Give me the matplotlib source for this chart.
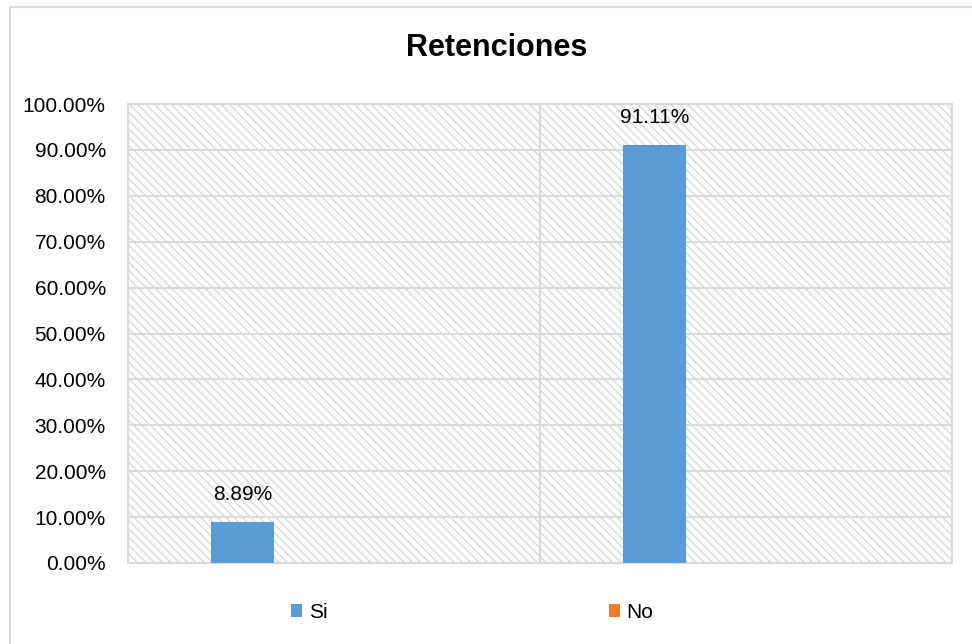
import matplotlib
matplotlib.use("Agg")
import matplotlib.pyplot as plt
from matplotlib.patches import Rectangle, Patch
from matplotlib.ticker import FuncFormatter

# Data
categories = ["1", "2"]
series_names = ["Si", "No"]
si_values = [8.89, 91.11]
no_values = [0.0, 0.0]
y_ticks = [0, 10, 20, 30, 40, 50, 60, 70, 80, 90, 100]

plt.rcParams["font.family"] = ["Liberation Sans", "DejaVu Sans"]
grey = "#d9d9d9"
blue = "#5b9bd5"
orange = "#ed7d31"
plt.rcParams["hatch.color"] = grey
plt.rcParams["hatch.linewidth"] = 1.0

fig = plt.figure(figsize=(9.72, 6.44), dpi=100)
ax = fig.add_axes([128 / 972, 1 - 563 / 644, (952 - 128) / 972, (563 - 104) / 644])

# Outer chart frame (top and left edges visible)
fig.patches.append(Rectangle((10 / 972, -0.05), 1.2, 1 - 7 / 644 + 0.05,
                             transform=fig.transFigure, fill=False,
                             edgecolor=grey, linewidth=1.5, zorder=0))

# Hatched plot area
ax.set_facecolor("white")
ax.add_patch(Rectangle((0, 0), 1, 1, transform=ax.transAxes, facecolor="white",
                       edgecolor=grey, hatch="\\\\\\\\", linewidth=0, zorder=0))

x = list(range(len(categories)))
bar_w = 0.153
offset = 0.221
ax.bar([i - offset for i in x], si_values, width=bar_w, color=blue, zorder=3)
ax.bar([i + offset for i in x], no_values, width=bar_w, color=orange, zorder=3, linewidth=0)

for i, v in zip(x, si_values):
    ax.annotate(f"{v:.2f}%", (i - offset, v), xytext=(0, 13), textcoords="offset points",
                ha="center", va="bottom", fontsize=15, color="#000000")

ax.set_xlim(-0.5, len(categories) - 0.5)
ax.set_ylim(0, 100)
ax.set_yticks(y_ticks)
ax.yaxis.set_major_formatter(FuncFormatter(lambda v, p: f"{v:.2f}%"))
ax.set_xticks([])
ax.set_xticks([0.5], minor=True)
ax.tick_params(axis="y", length=0, pad=16, labelsize=15, colors="#000000")
ax.tick_params(axis="x", which="both", length=0)
ax.grid(axis="y", color=grey, linewidth=1.5, zorder=1)
ax.grid(axis="x", which="minor", color=grey, linewidth=1.5, zorder=1)
ax.set_axisbelow(True)
for s in ax.spines.values():
    s.set_color(grey)
    s.set_linewidth(1.5)

fig.text(497 / 972, 1 - 48 / 644, "Retenciones", ha="center", va="center",
         fontsize=22, fontweight="bold")

handles = [Patch(facecolor=blue, label=series_names[0]),
           Patch(facecolor=orange, label=series_names[1])]
fig.legend(handles=handles, loc="center", bbox_to_anchor=(472 / 972, 1 - 612 / 644),
           ncol=2, frameon=False, fontsize=15, handlelength=0.55, handleheight=0.6,
           handletextpad=0.3, columnspacing=13.5)

fig.savefig("out.png", dpi=100)
